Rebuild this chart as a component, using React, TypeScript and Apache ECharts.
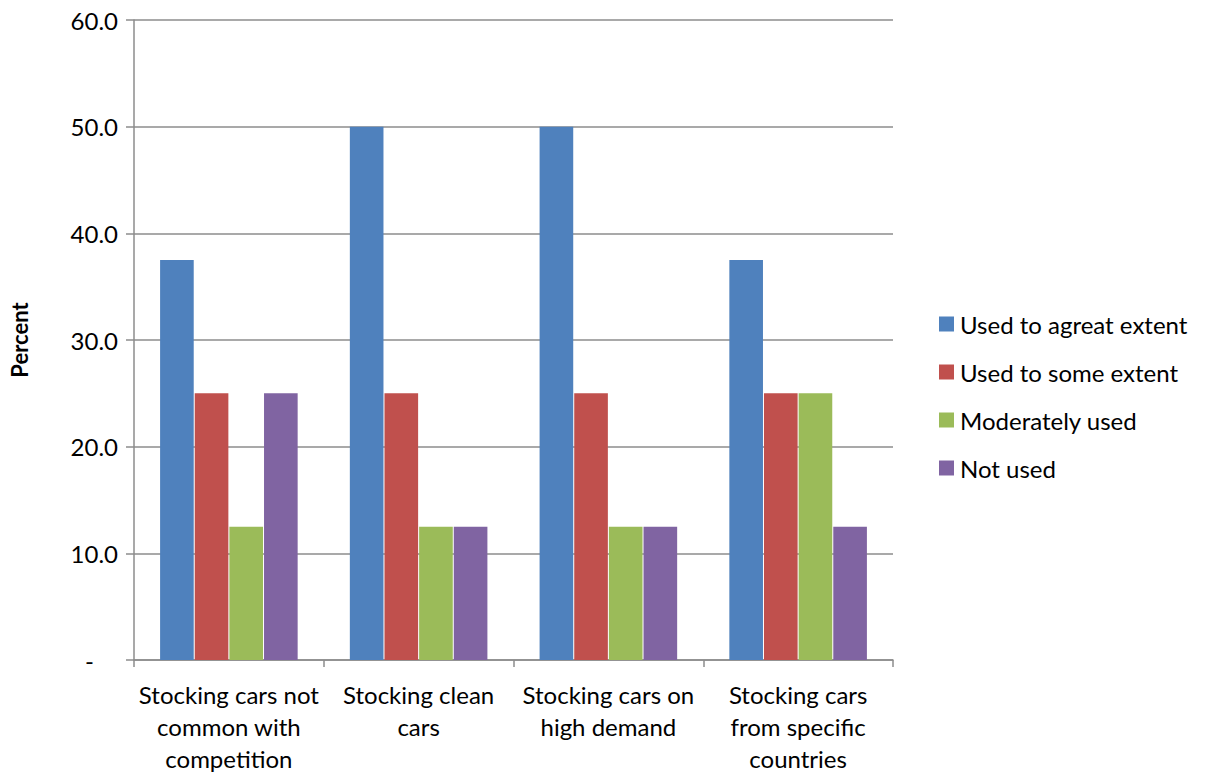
import React, { useEffect, useRef } from "react";
import * as echarts from "echarts";

const categories = [
  "Stocking cars not\ncommon with\ncompetition",
  "Stocking clean\ncars",
  "Stocking cars on\nhigh demand",
  "Stocking cars\nfrom specific\ncountries",
];

const seriesNames = [
  "Used to agreat extent",
  "Used to some extent",
  "Moderately used",
  "Not used",
];

const greatExtent = [37.5, 50.0, 50.0, 37.5];
const someExtent = [25.0, 25.0, 25.0, 25.0];
const moderately = [12.5, 12.5, 12.5, 25.0];
const notUsed = [25.0, 12.5, 12.5, 12.5];

const seriesValues = [greatExtent, someExtent, moderately, notUsed];
const colors = ["#4F81BD", "#C0504D", "#9BBB59", "#8064A2"];

const FONT = "Lato, 'Open Sans', sans-serif";
const AXIS_GRAY = "#8C8C8C";
const FS = 24;

export default function App() {
  const ref = useRef<HTMLDivElement>(null);

  useEffect(() => {
    if (!ref.current) return;
    const chart = echarts.init(ref.current, undefined, { renderer: "svg" });
    chart.setOption({
      animation: false,
      backgroundColor: "#ffffff",
      textStyle: { fontFamily: FONT },
      grid: { left: 130, right: 318, top: 20, bottom: 113, containLabel: false },
      legend: {
        orient: "vertical",
        left: 934,
        top: 307,
        itemWidth: 15,
        itemHeight: 15,
        itemGap: 24,
        icon: "rect",
        data: seriesNames,
        textStyle: { fontFamily: FONT, fontSize: FS, color: "#000", padding: [0, 0, 0, 1] },
      },
      xAxis: {
        type: "category",
        data: categories,
        axisLine: { show: true, lineStyle: { color: AXIS_GRAY, width: 1.5 } },
        axisTick: { show: true, length: 7, lineStyle: { color: AXIS_GRAY, width: 1.5 } },
        axisLabel: {
          interval: 0,
          margin: 18,
          fontFamily: FONT,
          fontSize: FS,
          lineHeight: 32,
          color: "#000",
        },
        splitLine: { show: false },
      },
      yAxis: {
        type: "value",
        min: 0,
        max: 60,
        interval: 10,
        name: "Percent",
        nameLocation: "middle",
        nameGap: 104,
        nameTextStyle: { fontFamily: FONT, fontSize: 22, fontWeight: "bold", color: "#000" },
        axisLine: { show: true, lineStyle: { color: AXIS_GRAY, width: 1.5 } },
        axisTick: { show: true, length: 8, lineStyle: { color: AXIS_GRAY, width: 1.5 } },
        splitLine: { show: true, lineStyle: { color: AXIS_GRAY, width: 1.5 } },
        axisLabel: {
          margin: 16,
          fontFamily: FONT,
          fontSize: FS,
          color: "#000",
          formatter: (v: number) => (v === 0 ? "{d|-}" : v.toFixed(1)),
          rich: { d: { fontFamily: FONT, fontSize: FS, color: "#000", padding: [0, 24, 0, 0] } },
        },
      },
      series: seriesValues.map((vals, i) => ({
        name: seriesNames[i],
        type: "bar",
        data: vals,
        barGap: "3%",
        barCategoryGap: "27.5%",
        itemStyle: { color: colors[i] },
      })),
    });
    return () => chart.dispose();
  }, []);

  return (
    <div
      ref={ref}
      style={{ position: "fixed", left: 0, top: 0, width: 1211, height: 774 }}
    />
  );
}
